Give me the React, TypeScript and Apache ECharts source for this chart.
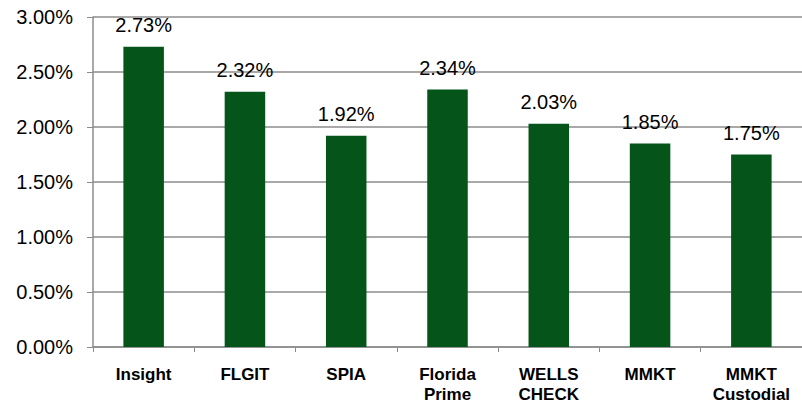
import React, { useEffect, useRef } from "react";
import * as echarts from "echarts";

const categories = ["Insight", "FLGIT", "SPIA", "Florida\nPrime", "WELLS\nCHECK", "MMKT", "MMKT\nCustodial"];
const values = [2.73, 2.32, 1.92, 2.34, 2.03, 1.85, 1.75];
const yMin = 0;
const yMax = 3;
const yStep = 0.5;

export default function App() {
  const ref = useRef<HTMLDivElement>(null);
  useEffect(() => {
    if (!ref.current) return;
    const chart = echarts.init(ref.current, null, { renderer: "svg" });
    const font = "'Liberation Sans', Arial, sans-serif";
    chart.setOption({
      animation: false,
      grid: { left: 93, top: 17, bottom: 52, width: 712 },
      xAxis: {
        type: "category",
        data: categories,
        axisLine: { lineStyle: { color: "#8c8c8c", width: 1.5 } },
        axisTick: { show: true, length: 5, lineStyle: { color: "#8c8c8c" } },
        axisLabel: {
          color: "#000",
          fontFamily: font,
          fontSize: 17,
          fontWeight: "bold",
          lineHeight: 20,
          margin: 17,
          interval: 0,
        },
      },
      yAxis: {
        type: "value",
        min: yMin,
        max: yMax,
        interval: yStep,
        axisLine: { show: true, lineStyle: { color: "#8c8c8c", width: 1.5 } },
        axisTick: { show: true, length: 6, lineStyle: { color: "#8c8c8c" } },
        splitLine: { show: true, lineStyle: { color: "#8c8c8c", width: 1.5 } },
        axisLabel: {
          color: "#000",
          fontFamily: font,
          fontSize: 20,
          margin: 20,
          formatter: (v: number) => v.toFixed(2) + "%",
        },
      },
      series: [
        {
          type: "bar",
          data: values,
          barWidth: "40%",
          itemStyle: { color: "#05551a" },
          label: {
            show: true,
            position: "top",
            distance: 12,
            color: "#000",
            fontFamily: font,
            fontSize: 20,
            formatter: (p: any) => p.value.toFixed(2) + "%",
          },
        },
      ],
    });
    return () => chart.dispose();
  }, []);
  return <div ref={ref} style={{ width: 802, height: 404, position: "absolute", left: 0, top: 0 }} />;
}
